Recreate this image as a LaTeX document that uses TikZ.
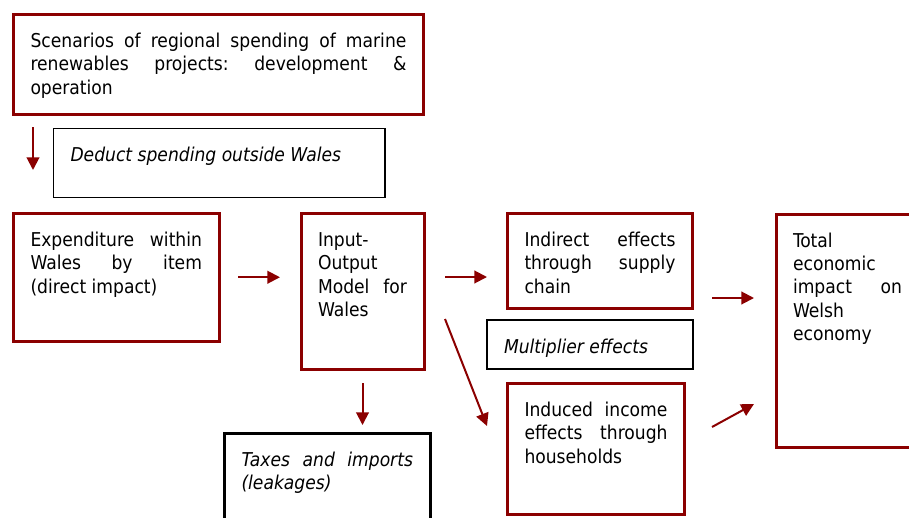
\documentclass[tikz,border=0pt]{standalone}
\usepackage{fontspec}
\setmainfont{DejaVu Sans Condensed}
\usetikzlibrary{arrows.meta,calc}
\definecolor{wred}{RGB}{139,0,0}
\hyphenpenalty=10000
\frenchspacing
\tikzset{every picture/.style={line width=0.75pt}}
\tikzset{
  box/.style={draw, rectangle, anchor=north west, outer sep=0pt, inner xsep=12.75pt, inner ysep=6pt,
    text height=18.75pt, align=justify, font=\fontsize{14.3pt}{17.5pt}\selectfont},
  rbox/.style={box, draw=wred, line width=2.25pt},
  kbox/.style={box, draw=black, line width=1.2pt},
  flow/.style={draw=wred, line width=1.5pt, -{Triangle[length=9.5pt,width=9.5pt]}}
}

\begin{document}
\begin{tikzpicture}[x=0.75pt,y=0.75pt,yscale=-1,xscale=1]
\useasboundingbox (0,0) rectangle (909,517);
\clip (0,0) rectangle (909,517);

%Shape: Rectangle [scenarios]
\node[rbox, text width=282pt, text depth=43.875pt] (scen) at (13.5,14.5)
  {Scenarios of regional spending of marine\linebreak renewables projects: development \&\linebreak operation};
%Shape: Rectangle [deduct]
\node[kbox, text width=223.125pt, text depth=21pt] (deduct) at (53.5,128.5)
  {\textit{Deduct spending outside Wales}};
%Shape: Rectangle [expenditure]
\node[rbox, text width=128.625pt, text depth=64.875pt] (expend) at (13.5,213.5)
  {Expenditure within\linebreak Wales by item\linebreak (direct impact)};
%Shape: Rectangle [input-output model]
\node[rbox, text width=66.75pt, text depth=86.25pt] (iomodel) at (301,213.5)
  {Input-\\Output\\Model for\linebreak Wales};
%Shape: Rectangle [leakages]
\node[box, draw=black, line width=2.25pt, text width=128.625pt, text depth=59.25pt] (taxes) at (224.5,433.5)
  {\textit{Taxes and imports\linebreak (leakages)}};
%Shape: Rectangle [indirect]
\node[rbox, text width=113.25pt, text depth=40.5pt] (indirect) at (507.5,213.5)
  {Indirect effects\linebreak through supply\linebreak chain};
%Shape: Rectangle [multiplier]
\node[kbox, text width=129pt, text depth=6pt] (multip) at (487,320)
  {\textit{Multiplier effects}};
%Shape: Rectangle [induced]
\node[rbox, text width=107.25pt, text depth=67.5pt] (induced) at (507.5,383.5)
  {Induced income\linebreak effects through\linebreak households};
%Shape: Rectangle [total]
\node[rbox, text width=81.75pt, text depth=144pt] (total) at (776,214)
  {Total\\economic\\impact on\linebreak Welsh\\economy};

%Straight Lines
\draw[flow] ($(scen.south west)+(19.5,13)$) -- ($(expend.north west)+(19.5,-43.5)$);
\draw[flow] ($(expend.east)+(19,0)$) -- ($(iomodel.west |- expend.east)+(-21,0)$);
\draw[flow] ($(iomodel.south)+(0,13.5)$) -- ($(iomodel.south |- taxes.north)+(0,-8.5)$);
\draw[flow] ($(iomodel.north east)+(21,63.5)$) -- ($(indirect.north west)+(-20.5,63.5)$);
\draw[flow] ($(iomodel.north east)+(21,105.5)$) -- ($(induced.north west)+(-20.5,42.5)$);
\draw[flow] ($(indirect.north east)+(19.5,84.5)$) -- ($(total.north west)+(-22,84)$);
\draw[flow] ($(induced.north east)+(27.5,43.5)$) -- ($(total.north west)+(-22,190)$);

\end{tikzpicture}
\end{document}
